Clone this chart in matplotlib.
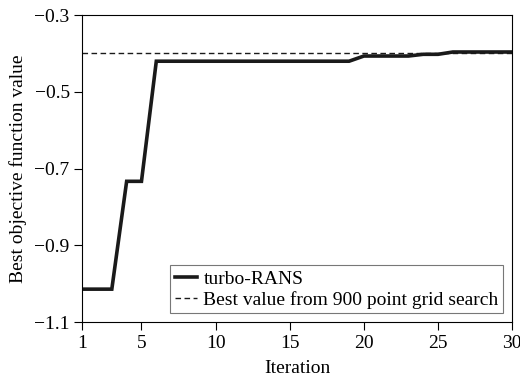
import matplotlib
matplotlib.use("Agg")
import matplotlib.pyplot as plt

iterations = list(range(1, 31))
turbo_rans = [-1.014, -1.014, -1.014, -0.733, -0.733,
              -0.420, -0.420, -0.420, -0.420, -0.420,
              -0.420, -0.420, -0.420, -0.420, -0.420,
              -0.420, -0.420, -0.420, -0.420, -0.4065,
              -0.4065, -0.4065, -0.4065, -0.402, -0.402,
              -0.396, -0.396, -0.396, -0.396, -0.396]
grid_best = -0.398
xticks = [1, 5, 10, 15, 20, 25, 30]
yticks = [-1.1, -0.9, -0.7, -0.5, -0.3]

plt.rcParams['font.family'] = ['Liberation Serif', 'DejaVu Serif']
fs = 14

fig = plt.figure(figsize=(5.2, 3.79), dpi=100)
ax = fig.add_axes([0.158, 0.15, 0.827, 0.81])

ax.plot(iterations, turbo_rans, color='#1a1a1a', lw=2.6, label='turbo-RANS',
        solid_joinstyle='miter')
ax.axhline(grid_best, color='#1a1a1a', lw=1.0, ls=(0, (4, 2.5)),
           label='Best value from 900 point grid search')

ax.set_xlim(1, 30)
ax.set_ylim(-1.1, -0.3)
ax.set_xticks(xticks)
ax.set_yticks(yticks)
ax.set_yticklabels(['\u22121.1', '\u22120.9', '\u22120.7', '\u22120.5', '\u22120.3'])
ax.tick_params(direction='out', length=6, width=0.8, labelsize=fs, top=False, right=False, pad=3)
ax.set_xlabel('Iteration', fontsize=fs, labelpad=6)
ax.set_ylabel('Best objective function value', fontsize=fs, labelpad=5)
for s in ax.spines.values():
    s.set_linewidth(0.8)

leg = ax.legend(loc='lower right', fontsize=fs, frameon=True, fancybox=False,
                edgecolor='#555555', handlelength=1.15, handletextpad=0.32,
                borderpad=0.25, labelspacing=0.15, borderaxespad=0.45)
leg.get_frame().set_linewidth(0.8)

fig.savefig('out.png', dpi=100)
